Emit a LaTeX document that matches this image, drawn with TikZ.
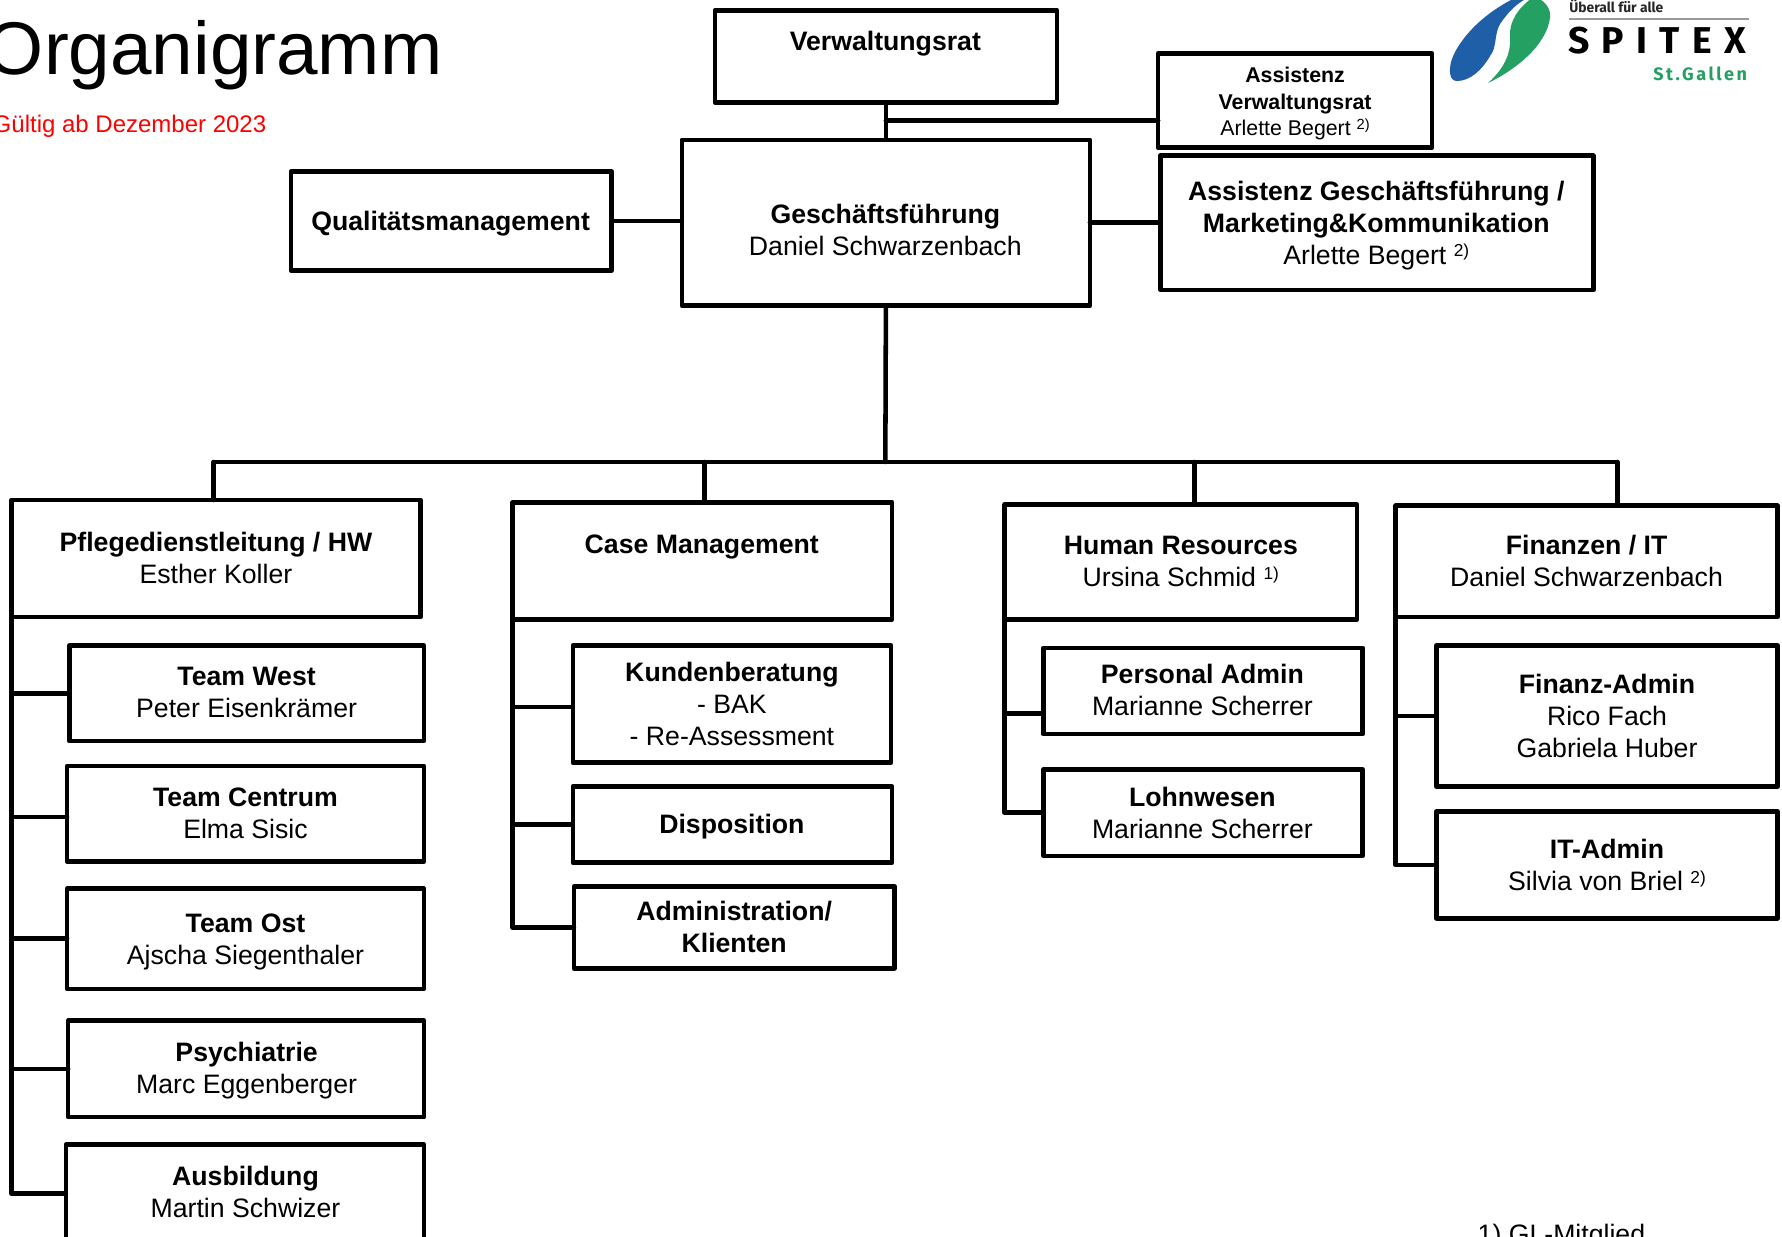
\documentclass[tikz,border=0pt]{standalone}
\usepackage{fontspec}
\setmainfont{Liberation Sans}
\newfontfamily\logofont{Fira Sans}
\definecolor{logoblue}{HTML}{1F5FA8}
\definecolor{logogreen}{HTML}{25A063}
\newcommand{\Bl}[1]{\strut\textbf{#1}}
\newcommand{\Nl}[1]{\strut #1}
\newcommand{\spr}[2][13]{\smash{\raisebox{.52ex}{\fontsize{#1}{#1}\selectfont #2}}}
\tikzset{
  orgbox/.style={draw=black,line width=3.4pt,line join=round,inner sep=0pt,outer sep=0pt},
  conn/.style={draw=black,line width=3.4pt,line cap=round,line join=round},
  lbl/.style={inner sep=0pt,align=center,yshift=-1.5pt,font=\fontsize{20}{24}\selectfont},
  lblsmall/.style={inner sep=0pt,align=center,yshift=-2pt,font=\fontsize{16}{19.6}\selectfont},
}
\newcommand{\bx}[9][lbl]{%
  \pgfmathsetlengthmacro{\bxw}{(#4-#2)*0.85235pt}%
  \pgfmathsetlengthmacro{\bxh}{(#5-#3)*0.85235pt}%
  \pgfmathsetmacro{\bxcx}{(#2+#4)/2}%
  \pgfmathsetmacro{\bxcy}{(#3+#5)/2}%
  \node[orgbox,minimum width=\bxw,minimum height=\bxh] (#6) at (\bxcx,\bxcy) {};%
  \node[#1] (#6-text) at (#7,#8) {#9};%
}
\begin{document}
\begin{tikzpicture}[x=0.85235pt,y=-0.85235pt]
\clip (0,0) rectangle (1567.97,1087.56);
\fill[white] (0,0) rectangle (1567.97,1087.56);
% title
\node[inner sep=0pt,anchor=base east,font=\fontsize{56}{60}\selectfont] (title) at (389.5,65.5) {Organigramm};
\node[inner sep=0pt,anchor=base east,text=red,font=\fontsize{18}{22}\selectfont] (sub) at (234.5,117) {Gültig ab Dezember 2023};
% boxes
\bx{629}{9}{930}{90}{vr}{779}{37}{\Bl{Verwaltungsrat}}
\bx[lblsmall]{1019}{47}{1260}{130}{avr}{1139.5}{89}{\Bl{Assistenz}\\\Bl{Verwaltungsrat}\\\Nl{Arlette Begert \spr[11]{2)}}}
\bx{600}{123}{959}{269}{gf}{779}{203}{\Bl{Geschäftsführung}\\\Nl{Daniel Schwarzenbach}}
\bx{1021}{137}{1402}{255}{agf}{1211}{197}{\Bl{Assistenz Geschäftsführung /}\\\Bl{Marketing\&Kommunikation}\\\Nl{Arlette Begert \spr{2)}}}
\bx{256}{151}{538}{238}{qm}{396.5}{195}{\Bl{Qualitätsmanagement}}
\bx{10}{440}{370}{543}{pf}{190}{492}{\Bl{Pflegedienstleitung / HW}\\\Nl{Esther Koller}}
\bx{451}{442}{785}{545}{cm}{617.5}{480}{\Bl{Case Management}}
\bx{884}{444}{1194}{545}{hr}{1039}{495}{\Bl{Human Resources}\\\Nl{Ursina Schmid \spr{1)}}}
\bx{1228}{445}{1564}{543}{fi}{1396}{495}{\Bl{Finanzen / IT}\\\Nl{Daniel Schwarzenbach}}
\bx{61}{568}{373}{652}{tw}{217}{610}{\Bl{Team West}\\\Nl{Peter Eisenkrämer}}
\bx{59}{674}{373}{758}{tc}{216}{716}{\Bl{Team Centrum}\\\Nl{Elma Sisic}}
\bx{59}{782}{373}{870}{to}{216}{827}{\Bl{Team Ost}\\\Nl{Ajscha Siegenthaler}}
\bx{60}{898}{373}{983}{ps}{217}{941}{\Bl{Psychiatrie}\\\Nl{Marc Eggenberger}}
\bx{58}{1007}{373}{1093}{au}{216}{1049.5}{\Bl{Ausbildung}\\\Nl{Martin Schwizer}}
\bx{504}{568}{784}{671}{ku}{644}{620}{\Bl{Kundenberatung}\\\Nl{- BAK}\\\Nl{- Re-Assessment}}
\bx{504}{692}{785}{759}{di}{644}{726}{\Bl{Disposition}}
\bx{505}{780}{787}{852}{ad}{646}{817}{\Bl{Administration/}\\\Bl{Klienten}}
\bx{918}{570}{1199}{646}{pa}{1058}{608}{\Bl{Personal Admin}\\\Nl{Marianne Scherrer}}
\bx{918}{677}{1199}{753}{lw}{1058}{716}{\Bl{Lohnwesen}\\\Nl{Marianne Scherrer}}
\bx{1264}{568}{1564}{692}{fa}{1414}{631}{\Bl{Finanz-Admin}\\\Nl{Rico Fach}\\\Nl{Gabriela Huber}}
\bx{1264}{714}{1564}{808}{it}{1414}{762}{\Bl{IT-Admin}\\\Nl{Silvia von Briel \spr{2)}}}
% connectors
\coordinate (avrj) at (1019,106);
\coordinate (bus) at (779,406.5);
\coordinate (dpf) at (188,406.5);
\coordinate (dcm) at (620,406.5);
\coordinate (dhr) at (1051,406.5);
\coordinate (dfi) at (1423,406.5);
\coordinate (paj) at (918,628);
\coordinate (kuj) at (504,622);
\coordinate (tcj) at (59,719);
\draw[conn] (vr.south) -- (gf.north);
\draw[conn] (avrj) -- (avrj -| vr.south);
\draw[conn] (qm.east) -- (qm.east -| gf.west);
\draw[conn] (gf.east |- agf.west) -- (agf.west);
\draw[conn] (gf.south) -- (bus);
\draw[conn] (dpf) -- (dfi);
\draw[conn] (dpf) -- (dpf |- pf.north);
\draw[conn] (dcm) -- (dcm |- cm.north);
\draw[conn] (dhr) -- (dhr |- hr.north);
\draw[conn] (dfi) -- (dfi |- fi.north);
\draw[conn] (pf.south west) |- (au.west);
\draw[conn] (tw.west) -- (tw.west -| pf.south west);
\draw[conn] (tcj) -- (tcj -| pf.south west);
\draw[conn] (to.west) -- (to.west -| pf.south west);
\draw[conn] (ps.west) -- (ps.west -| pf.south west);
\draw[conn] (cm.south west) |- (ad.west);
\draw[conn] (kuj) -- (kuj -| cm.south west);
\draw[conn] (di.west) -- (di.west -| cm.south west);
\draw[conn] (hr.south west) |- (lw.west);
\draw[conn] (paj) -- (paj -| hr.south west);
\draw[conn] (fi.south west) |- (it.west);
\draw[conn] (fa.west) -- (fa.west -| fi.south west);
% footnote
\node[inner sep=0pt,anchor=base west,font=\fontsize{20}{24}\selectfont] (fn) at (1300,1094) {1) GL-Mitglied};
% logo
\begin{scope}[x=.75pt,y=-.75pt]
\fill[logoblue] (1528,-2) .. controls (1518,2) and (1508,12) .. (1500,24) .. controls (1494,34) and (1497,48) .. (1490,56) .. controls (1482,70) and (1470,81) .. (1457,81) .. controls (1449,81) and (1449,70) .. (1451,62) .. controls (1456,44) and (1478,16) .. (1515,-2) -- cycle;
\fill[logogreen] (1532,-2) .. controls (1518,8) and (1509,22) .. (1510,36) .. controls (1511,50) and (1507,66) .. (1488,83) .. controls (1515,70) and (1546,46) .. (1550,18) .. controls (1551,8) and (1545,2) .. (1538,-2) -- cycle;
\node[inner sep=0pt,anchor=base west,font=\logofont\bfseries\fontsize{10.4}{11}\selectfont,text=black!85] (lg1) at (1569,12.5) {Überall für alle};
\coordinate (lgl) at (1569,19);
\coordinate (lgr) at (1749,19);
\draw[black!40,line width=.9pt] (lgl) -- (lgr);
\node[inner sep=0pt,anchor=base west,font=\logofont\bfseries\fontsize{28}{30}\selectfont\addfontfeature{LetterSpace=33}] (lg2) at (1568,53) {SPITEX};
\node[inner sep=0pt,anchor=base west,font=\logofont\bfseries\fontsize{13.5}{15}\selectfont\addfontfeature{LetterSpace=14},text=logogreen] (lg3) at (1653,80) {St.Gallen};
\end{scope}
\end{tikzpicture}
\end{document}
